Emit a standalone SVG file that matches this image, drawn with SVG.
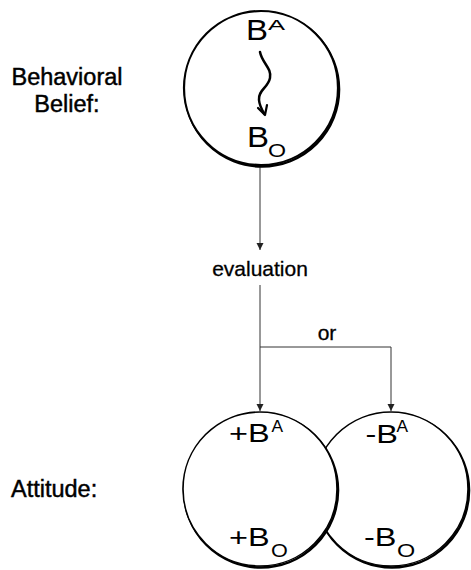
<svg xmlns="http://www.w3.org/2000/svg" width="471" height="570" viewBox="0 0 471 570">
<style>
.lbl{font-family:"Liberation Sans",Arial,sans-serif;fill:#000;}
.side{font-size:23.5px;stroke:#000;stroke-width:0.45;}
.mid{font-size:21px;stroke:#000;stroke-width:0.3;}
.shadow{fill:none;stroke:#000;stroke-width:2.6;}
.main{fill:#fff;stroke:#000;}
.conn{fill:none;stroke:#333;stroke-width:1;}
</style>
<defs>
<marker id="ah" markerUnits="userSpaceOnUse" markerWidth="8" markerHeight="8" refX="7" refY="3.5" orient="auto">
<path d="M0,0 L7,3.5 L0,7 Z" fill="#222"/>
</marker>
</defs>

<g id="label-behavioral-belief">
<text class="lbl side" x="67" y="85" text-anchor="middle">Behavioral</text>
<text class="lbl side" x="67" y="112" text-anchor="middle">Belief:</text>
</g>
<g id="label-attitude">
<text class="lbl side" x="11" y="497">Attitude:</text>
</g>

<g id="connectors">
<path class="conn" d="M260,166 L260,250" marker-end="url(#ah)"/>
<path class="conn" d="M260,285 L260,411" marker-end="url(#ah)"/>
<path class="conn" d="M260,347 L391,347 L391,411" marker-end="url(#ah)"/>
</g>

<g id="label-evaluation">
<text class="lbl mid" x="260" y="276" text-anchor="middle">evaluation</text>
</g>
<g id="label-or">
<text class="lbl mid" x="327" y="340" text-anchor="middle">or</text>
</g>

<g id="node-behavioral-belief">
<circle class="shadow" cx="262" cy="89.5" r="77"/>
<circle class="main" cx="261" cy="88" r="77" stroke-width="2.2"/>
<text class="lbl" font-size="30" transform="translate(246,40) scale(1.1,1)">B</text>
<text class="lbl" font-size="20" transform="translate(268,30) scale(1.28,0.75)">A</text>
<path d="M260,52 C262,63 272,68 270,78 C268,88 258,90 259,100 C259.5,106 262,110 264.5,114" fill="none" stroke="#000" stroke-width="2.5" stroke-linecap="round"/>
<path d="M258,108 L265,115 L267,105" fill="none" stroke="#000" stroke-width="2.2" stroke-linecap="round" stroke-linejoin="round"/>
<text class="lbl" font-size="30" transform="translate(247,147) scale(1.1,0.98)">B</text>
<text class="lbl" font-size="20" transform="translate(268,157) scale(1.16,0.95)">O</text>
</g>

<g id="node-negative-attitude">
<circle class="shadow" cx="392" cy="490.5" r="77"/>
<circle class="main" cx="391" cy="489" r="77" stroke-width="1.6"/>
<text class="lbl" font-size="25" transform="translate(365.5,443) scale(1.3,1)">-B</text>
<text class="lbl" font-size="16.5" transform="translate(396.5,432) scale(1.05,1)">A</text>
<text class="lbl" font-size="25" transform="translate(364,546) scale(1.3,1)">-B</text>
<text class="lbl" font-size="18" transform="translate(397,557) scale(1.3,1)">O</text>
</g>

<g id="node-positive-attitude">
<circle class="shadow" cx="261" cy="490.5" r="77"/>
<circle class="main" cx="260" cy="489" r="77" stroke-width="1.6"/>
<text class="lbl" font-size="25" transform="translate(229,442) scale(1.3,1)">+B</text>
<text class="lbl" font-size="16.5" transform="translate(271.5,432) scale(1.05,0.95)">A</text>
<text class="lbl" font-size="25" transform="translate(229,546) scale(1.3,1)">+B</text>
<text class="lbl" font-size="18" transform="translate(271,557) scale(1.2,1)">O</text>
</g>
</svg>
